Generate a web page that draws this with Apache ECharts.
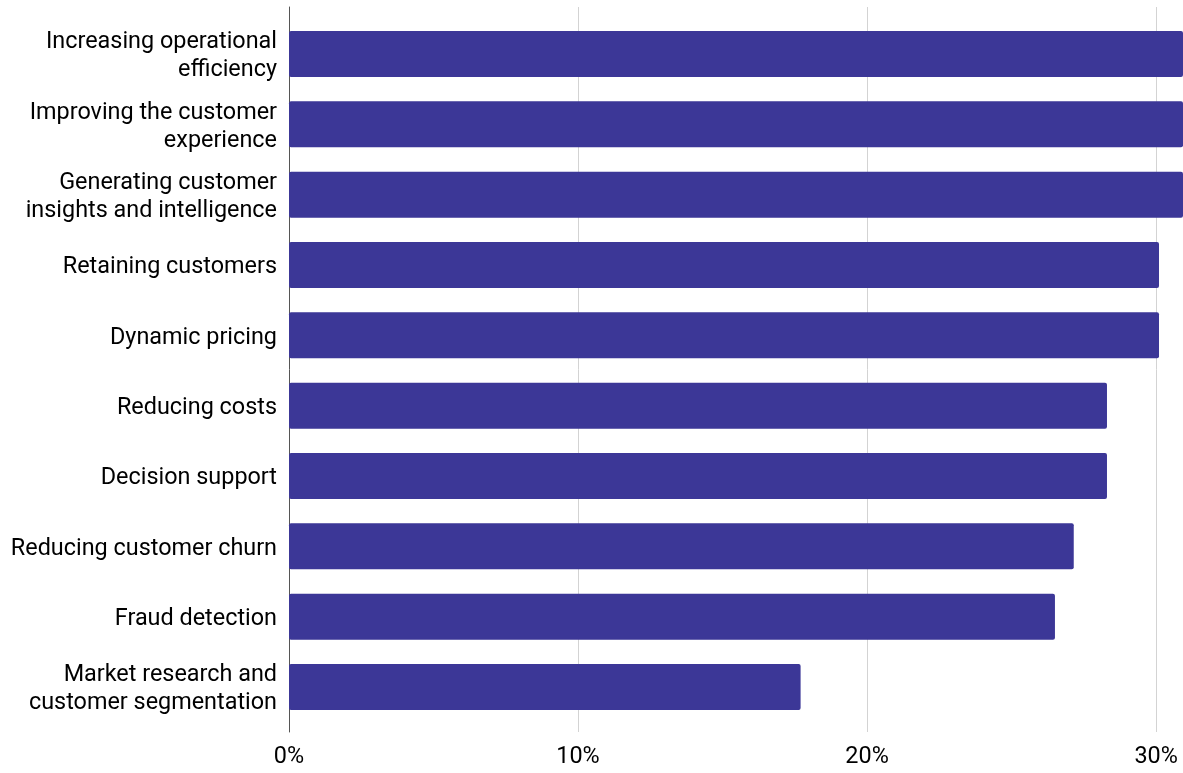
<!DOCTYPE html>
<html>
<head>
<meta charset="utf-8">
<script src="https://cdn.jsdelivr.net/npm/echarts@6/dist/echarts.min.js"></script>
<style>
  html, body { margin: 0; padding: 0; background: #fff; }
  #chart { width: 1183px; height: 773px; }
</style>
</head>
<body>
<div id="chart"></div>
<script>
// Use cases, top to bottom
const categories = [
  'Increasing operational\nefficiency',
  'Improving the customer\nexperience',
  'Generating customer\ninsights and intelligence',
  'Retaining customers',
  'Dynamic pricing',
  'Reducing costs',
  'Decision support',
  'Reducing customer churn',
  'Fraud detection',
  'Market research and\ncustomer segmentation'
];
// Share of respondents, percent
const values = [33.0, 32.5, 31.5, 30.1, 30.1, 28.3, 28.3, 27.15, 26.5, 17.7];
const tickValues = [0, 10, 20, 30];

const AXIS_MAX = 30.93;
const BAR_COLOR = '#3c3797';
const FONT = 'Roboto, "Noto Sans", sans-serif';
const LABEL_SHIFT = 2.5; // category labels sit a little below the bar centres

const chart = echarts.init(document.getElementById('chart'), null, { renderer: 'canvas' });

const hiddenValueAxis = (gridIndex) => ({
  gridIndex, type: 'value', min: 0, max: AXIS_MAX,
  axisLine: { show: false }, axisTick: { show: false },
  axisLabel: { show: false }, splitLine: { show: false }
});

chart.setOption({
  animation: false,
  backgroundColor: '#ffffff',
  grid: [
    // bars
    { left: 289, right: 0, top: 18.8, bottom: 50.8, containLabel: false },
    // frame: axis line and gridlines, slightly taller than the bar band
    { left: 289, right: 0, top: 7, bottom: 41, containLabel: false },
    // category labels
    { left: 289, right: 0, top: 18.8 + LABEL_SHIFT, bottom: 50.8 - LABEL_SHIFT, containLabel: false }
  ],
  xAxis: [
    hiddenValueAxis(0),
    {
      gridIndex: 1, type: 'value', min: 0, max: AXIS_MAX, interval: 10,
      axisLine: { show: false }, axisTick: { show: false },
      splitLine: {
        show: true, showMinLine: false, showMaxLine: false,
        lineStyle: { color: '#d3d3d3', width: 1 }
      },
      axisLabel: {
        show: true, margin: 14, fontSize: 23.4, color: '#000', fontFamily: FONT,
        showMaxLabel: false,
        formatter: v => (tickValues.indexOf(v) >= 0 ? v + '%' : '')
      }
    },
    hiddenValueAxis(2)
  ],
  yAxis: [
    {
      gridIndex: 0, type: 'category', data: categories, inverse: true,
      axisLine: { show: false }, axisTick: { show: false }, axisLabel: { show: false }
    },
    {
      gridIndex: 1, type: 'value', min: 0, max: 1,
      axisLine: { show: true, lineStyle: { color: '#555', width: 1 } },
      axisTick: { show: false }, axisLabel: { show: false }, splitLine: { show: false }
    },
    {
      gridIndex: 2, type: 'category', data: categories, inverse: true,
      axisLine: { show: false }, axisTick: { show: false },
      axisLabel: {
        margin: 12, fontSize: 23.4, lineHeight: 28, color: '#000',
        fontFamily: FONT, align: 'right'
      }
    }
  ],
  series: [{
    type: 'bar',
    xAxisIndex: 0, yAxisIndex: 0,
    data: values,
    barWidth: 46,
    clip: true,
    itemStyle: { color: BAR_COLOR, borderRadius: 2 },
    z: 3
  }]
});
</script>
</body>
</html>
